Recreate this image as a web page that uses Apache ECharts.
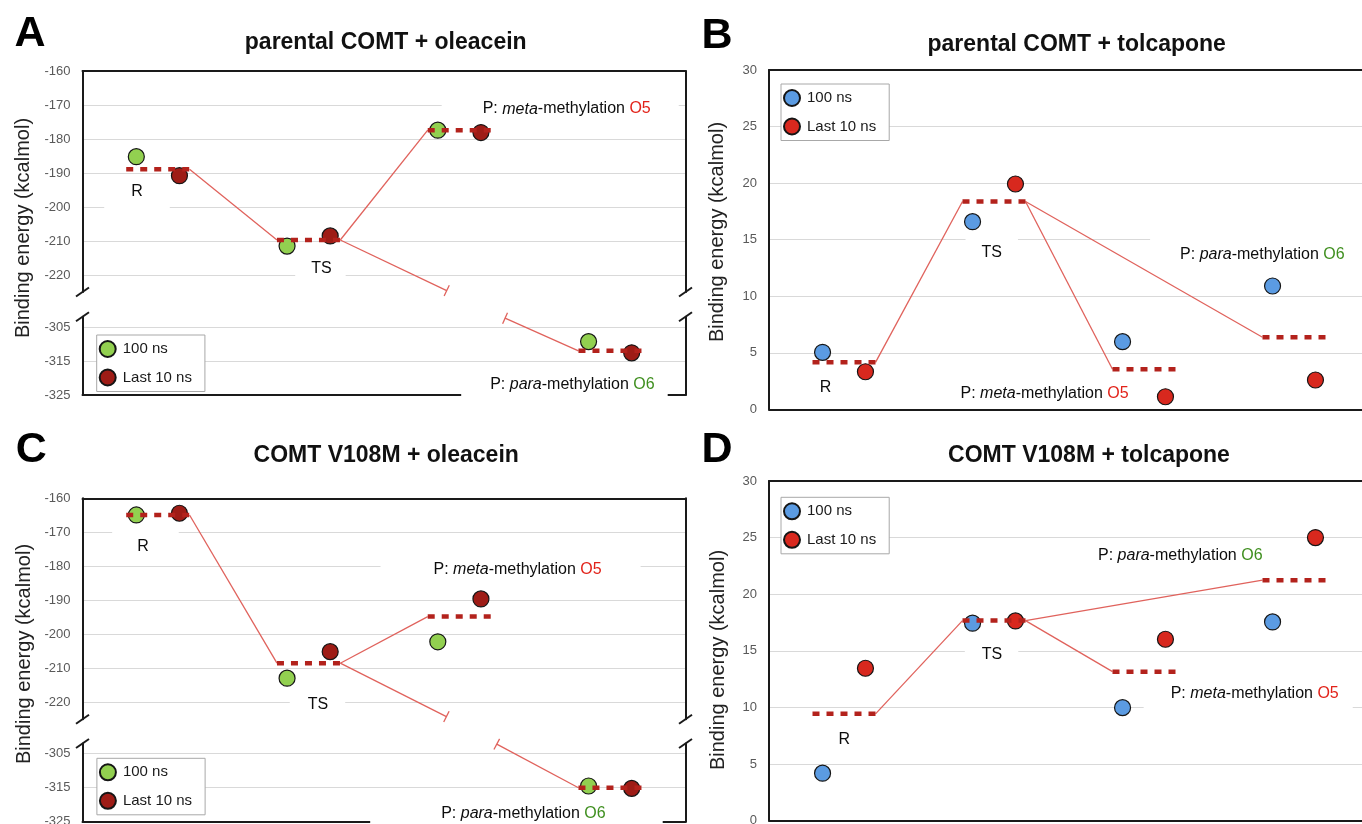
<!DOCTYPE html>
<html>
<head>
<meta charset="utf-8">
<script src="https://cdn.jsdelivr.net/npm/echarts@6.0.0/dist/echarts.min.js"></script>
<style>
  html, body { margin: 0; padding: 0; background: #ffffff; width: 1362px; height: 824px; overflow: hidden; }
  .panel { position: absolute; left: 0; top: 0; width: 1400px; height: 824px; }
</style>
</head>
<body>
<div id="A" class="panel"></div>
<div id="B" class="panel"></div>
<div id="C" class="panel"></div>
<div id="D" class="panel"></div>
<script>
// ---------------- DATA ----------------
const categories = ['R', 'TS', 'P: meta-methylation O5', 'P: para-methylation O6'];
const seriesNames = ['100 ns', 'Last 10 ns'];
const links = [[0, 1], [1, 2], [1, 3]];          // R->TS, TS->meta, TS->para

const ticksOleaceinUpper = [-220, -210, -200, -190, -180, -170, -160];
const ticksOleaceinLower = [-325, -315, -305];
const ticksTolcapone = [0, 5, 10, 15, 20, 25, 30];

// A: parental COMT + oleacein
const A_ns100  = [-185.2, -211.5, -177.4, -309.3];
const A_last10 = [-190.8, -208.5, -178.1, -312.6];
const A_level  = [-188.9, -209.7, -177.4, -312.0];
const A_breakLine = [[2.416, -224.6], [2.803, -302.4]];

// B: parental COMT + tolcapone
const B_ns100  = [5.04, 16.59, 5.98, 10.9];
const B_last10 = [3.32, 19.92, 1.11, 2.59];
const B_level  = [4.15, 18.37, 3.54, 6.37];

// C: COMT V108M + oleacein
const C_ns100  = [-164.9, -212.9, -202.2, -314.5];
const C_last10 = [-164.4, -205.1, -189.6, -315.2];
const C_level  = [-164.9, -208.5, -194.8, -315.0];
const C_breakLine = [[2.414, -224.2], [2.748, -302.2]];

// D: COMT V108M + tolcapone
const D_ns100  = [4.19, 17.44, 9.98, 17.55];
const D_last10 = [13.46, 17.64, 16.02, 25.0];
const D_level  = [9.43, 17.67, 13.16, 21.24];

// ---------------- STYLE ----------------
const FONT = "'Liberation Sans', Arial, Helvetica, sans-serif";
const HALF = 0.21;     // half width of a level bar (category units)
const OFF = 0.143;     // offset of the two markers from the category centre
const GREEN = '#92D050', DKRED = '#9E1C16', BLUE = '#5B9BE2', RED = '#D8281E';
const DASH = '#B3221C', LINK = '#E0625C', GRIDC = '#d9d9d9', FRAMEC = '#1a1a1a';
const META = 'P: {i|meta}-methylation {r|O5}';
const PARA = 'P: {i|para}-methylation {g|O6}';

const PANELS = {
  A: {
    broken: true, left: 82.5, width: 603, ppu: 3.4,
    upperTop: 71, upperMin: -225, upperMax: -160,
    lowerTop: 316.8, lowerMin: -325, lowerMax: -302,
    ns100: A_ns100, last10: A_last10, level: A_level, breakLine: A_breakLine,
    colors: [GREEN, DKRED],
    legend: [96.7, 335],
    title: ['parental COMT + oleacein', 385.7, 43],
    letter: ['A', 30, 34],
    yname: [23, 228],
    labels: [
      { txt: 'R', x: 0.3615, y: -195.5, pad: [3, 27, 9, 27] },
      { txt: 'TS', x: 1.585, y: -218.1, pad: [2, 14, 3, 16] },
      { txt: META, x: 3.212, y: -171.2, pad: [4, 28, 3, 41] },
      { txt: PARA, x: 3.250, y: -322.06, pad: [2, 13, 4, 29] }
    ]
  },
  B: {
    broken: false, left: 769, width: 600, ppu: 11.31,
    top: 70, min: 0, max: 30, interval: 5,
    ns100: B_ns100, last10: B_last10, level: B_level,
    colors: [BLUE, RED],
    legend: [781, 84],
    title: ['parental COMT + tolcapone', 1076.7, 44.5],
    letter: ['B', 717, 36],
    yname: [717.4, 232],
    labels: [
      { txt: 'R', x: 0.377, y: 1.945, pad: [1, 3, 1, 3] },
      { txt: 'TS', x: 1.485, y: 13.88, pad: [6, 16, 2, 16] },
      { txt: META, x: 1.837, y: 1.353, pad: [1, 3, 1, 3] },
      { txt: PARA, x: 3.289, y: 13.64, pad: [9, 30, 2, 30] }
    ]
  },
  C: {
    broken: true, left: 82.5, width: 603, ppu: 3.4,
    upperTop: 498.3, upperMin: -225, upperMax: -160,
    lowerTop: 743.5, lowerMin: -325, lowerMax: -302,
    ns100: C_ns100, last10: C_last10, level: C_level, breakLine: C_breakLine,
    colors: [GREEN, DKRED],
    legend: [96.9, 758.3],
    title: ['COMT V108M + oleacein', 386.2, 455.3],
    letter: ['C', 31.3, 450],
    yname: [24.5, 654],
    labels: [
      { txt: 'R', x: 0.401, y: -174.2, pad: [8, 30, 2, 25] },
      { txt: 'TS', x: 1.562, y: -220.8, pad: [2, 17, 2, 18] },
      { txt: META, x: 2.886, y: -181.1, pad: [3, 39, 3, 53] },
      { txt: PARA, x: 2.925, y: -322.7, pad: [2, 57, 2, 71] }
    ]
  },
  D: {
    broken: false, left: 769, width: 600, ppu: 11.32,
    top: 481, min: 0, max: 30, interval: 5,
    ns100: D_ns100, last10: D_last10, level: D_level,
    colors: [BLUE, RED],
    legend: [781, 497.3],
    title: ['COMT V108M + tolcapone', 1089, 455.3],
    letter: ['D', 717, 450],
    yname: [718.4, 660],
    labels: [
      { txt: 'R', x: 0.502, y: 7.13, pad: [1, 3, 1, 3] },
      { txt: 'TS', x: 1.487, y: 14.70, pad: [2, 16, 2, 17] },
      { txt: META, x: 3.238, y: 11.25, pad: [2, 14, 8, 27] },
      { txt: PARA, x: 2.742, y: 23.43, pad: [9, 39, 2, 52] }
    ]
  }
};

const FRAME = { show: true, onZero: false, lineStyle: { color: FRAMEC, width: 2 } };

function frameX(k, pos) {
  return {
    gridIndex: k, type: 'value', min: 0, max: categories.length, position: pos,
    axisLine: FRAME, axisTick: { show: false }, axisLabel: { show: false }, splitLine: { show: false }
  };
}

function levelRender(params, api) {
  const x = api.value(0), y = api.value(1);
  const a = api.coord([x - HALF, y]), b = api.coord([x + HALF, y]);
  return { type: 'line', shape: { x1: a[0], y1: a[1], x2: b[0], y2: b[1] },
           style: { stroke: DASH, lineWidth: 4.5, lineDash: [7, 7], lineCap: 'butt' } };
}

function linkRender(params, api) {
  const a = api.coord([api.value(0), api.value(1)]);
  const b = api.coord([api.value(2), api.value(3)]);
  const children = [{ type: 'line', shape: { x1: a[0], y1: a[1], x2: b[0], y2: b[1] },
                      style: { stroke: LINK, lineWidth: 1.3 } }];
  const dx = b[0] - a[0], dy = b[1] - a[1], len = Math.hypot(dx, dy) || 1;
  const nx = -dy / len * 6, ny = dx / len * 6;
  const tick = (p) => ({ type: 'line', shape: { x1: p[0] - nx, y1: p[1] - ny, x2: p[0] + nx, y2: p[1] + ny },
                         style: { stroke: LINK, lineWidth: 1.3 } });
  if (api.value(4)) children.push(tick(a));
  if (api.value(5)) children.push(tick(b));
  return { type: 'group', children };
}

function panelOption(P) {
  const grid = [], xAxis = [], yAxis = [], series = [], graphic = [];
  const secs = P.broken ? [
    { top: P.upperTop, min: P.upperMin, max: P.upperMax, groups: [0, 1, 2], frameTop: true, frameBottom: false, auto: true },
    { top: P.lowerTop, min: P.lowerMin, max: P.lowerMax, groups: [3], frameTop: false, frameBottom: true, interval: 10, hideMax: true }
  ] : [
    { top: P.top, min: P.min, max: P.max, groups: [0, 1, 2, 3], frameTop: true, frameBottom: true, interval: P.interval }
  ];

  secs.forEach((s, k) => {
    const h = (s.max - s.min) * P.ppu;
    s.bottomPx = s.top + h;
    grid.push({ left: P.left, top: s.top, width: P.width, height: h, containLabel: false, outerBoundsMode: 'none' });
    s.xi = xAxis.length;
    if (s.frameBottom) xAxis.push(frameX(k, 'bottom'));
    if (s.frameTop) xAxis.push(frameX(k, 'top'));
    s.yi = yAxis.length;
    const yl = {
      gridIndex: k, type: 'value', min: s.min, max: s.max, position: 'left',
      axisLine: FRAME, axisTick: { show: false },
      axisLabel: { show: true, fontSize: 13, color: '#595959', fontFamily: FONT, margin: 12,
                   showMinLabel: !s.auto, showMaxLabel: !s.hideMax },
      splitLine: { show: true, showMinLine: !s.auto, showMaxLine: !s.hideMax,
                   lineStyle: { color: GRIDC, width: 1.2 } }
    };
    if (s.interval) yl.interval = s.interval;
    yAxis.push(yl);
    const yr = {
      gridIndex: k, type: 'value', min: s.min, max: s.max, position: 'right',
      axisLine: FRAME, axisTick: { show: false }, axisLabel: { show: false }, splitLine: { show: false }
    };
    if (s.interval) yr.interval = s.interval;
    yAxis.push(yr);
  });

  const secOf = (g) => secs.findIndex(s => s.groups.includes(g));

  // connecting lines
  const conns = secs.map(() => []);
  links.forEach(([a, b]) => {
    const sa = secOf(a), sb = secOf(b);
    const x1 = a + 0.5 + HALF, y1 = P.level[a], x2 = b + 0.5 - HALF, y2 = P.level[b];
    if (sa === sb) conns[sa].push([x1, y1, x2, y2, 0, 0]);
    else {
      conns[sa].push([x1, y1, P.breakLine[0][0], P.breakLine[0][1], 0, 1]);
      conns[sb].push([P.breakLine[1][0], P.breakLine[1][1], x2, y2, 1, 0]);
    }
  });

  secs.forEach((s, k) => {
    const ax = { xAxisIndex: s.xi, yAxisIndex: s.yi };
    series.push(Object.assign({ type: 'custom', name: 'links', z: 2, silent: true, renderItem: linkRender,
      encode: { x: [0, 2], y: [1, 3] }, data: conns[k] }, ax));
    [P.ns100, P.last10].forEach((vals, si) => {
      series.push(Object.assign({
        type: 'scatter', name: seriesNames[si], z: 3, silent: true,
        symbol: 'circle', symbolSize: 16,
        itemStyle: { color: P.colors[si], borderColor: '#151515', borderWidth: 1.2, opacity: 1 },
        data: s.groups.map(g => [g + 0.5 + (si === 0 ? -OFF : OFF), vals[g]])
      }, ax));
    });
    series.push(Object.assign({ type: 'custom', name: 'levels', z: 4, silent: true, renderItem: levelRender,
      encode: { x: 0, y: 1 }, data: s.groups.map(g => [g + 0.5, P.level[g]]) }, ax));
    const labs = P.labels.filter(l => (P.broken ? (l.y < -260 ? 1 : 0) : 0) === k);
    series.push(Object.assign({
      type: 'scatter', name: 'labels', z: 6, silent: true, symbol: 'circle', symbolSize: 1,
      itemStyle: { color: 'rgba(0,0,0,0)' },
      label: {
        show: true, position: 'inside', formatter: p => p.data.txt,
        fontSize: 16, fontFamily: FONT, color: '#0d0d0d', backgroundColor: '#ffffff',
        textBorderWidth: 0, opacity: 1,
        rich: {
          i: { fontStyle: 'italic', fontSize: 16, fontFamily: FONT, color: '#0d0d0d' },
          r: { fontSize: 16, fontFamily: FONT, color: '#E2231A' },
          g: { fontSize: 16, fontFamily: FONT, color: '#3F8F1F' }
        }
      },
      data: labs.map(l => ({
        value: [l.x, l.y], txt: l.txt,
        label: { padding: l.pad, offset: [(l.pad[1] - l.pad[3]) / 2, (l.pad[2] - l.pad[0]) / 2] }
      }))
    }, ax));
  });

  // texts
  graphic.push({ type: 'text', x: P.letter[1], y: P.letter[2], silent: true,
    style: { text: P.letter[0], fontSize: 43, fontWeight: 'bold', fontFamily: FONT, fill: '#000', align: 'center', verticalAlign: 'middle' } });
  graphic.push({ type: 'text', x: P.title[1], y: P.title[2], silent: true,
    style: { text: P.title[0], fontSize: 23, fontWeight: 'bold', fontFamily: FONT, fill: '#111', align: 'center', verticalAlign: 'middle' } });
  graphic.push({ type: 'text', x: P.yname[0], y: P.yname[1], rotation: Math.PI / 2, silent: true,
    style: { text: 'Binding energy (kcalmol)', fontSize: 20, fontFamily: FONT, fill: '#222', align: 'center', verticalAlign: 'middle' } });

  // axis-break marks
  if (P.broken) {
    [P.left, P.left + P.width].forEach(x => {
      [secs[0].bottomPx, secs[1].top].forEach(y => {
        graphic.push({ type: 'line', silent: true, z: 10,
          shape: { x1: x - 6.5, y1: y + 4.5, x2: x + 6.5, y2: y - 4.5 },
          style: { stroke: FRAMEC, lineWidth: 2 } });
      });
    });
  }

  return {
    animation: false,
    backgroundColor: 'rgba(0,0,0,0)',
    tooltip: { show: false },
    legend: {
      show: true, data: seriesNames, orient: 'vertical', left: P.legend[0], top: P.legend[1],
      icon: 'circle', itemWidth: 20, itemHeight: 16, itemGap: 10.5,
      padding: [5, 13, 5, 2], borderColor: '#a8a8a8', borderWidth: 1, backgroundColor: '#ffffff',
      textStyle: { fontSize: 15, color: '#1a1a1a', fontFamily: FONT }, selectedMode: false
    },
    grid, xAxis, yAxis, series, graphic
  };
}

['A', 'B', 'C', 'D'].forEach(id => {
  const chart = echarts.init(document.getElementById(id), null, { renderer: 'canvas', width: 1400, height: 824 });
  chart.setOption(panelOption(PANELS[id]));
});
</script>
</body>
</html>
